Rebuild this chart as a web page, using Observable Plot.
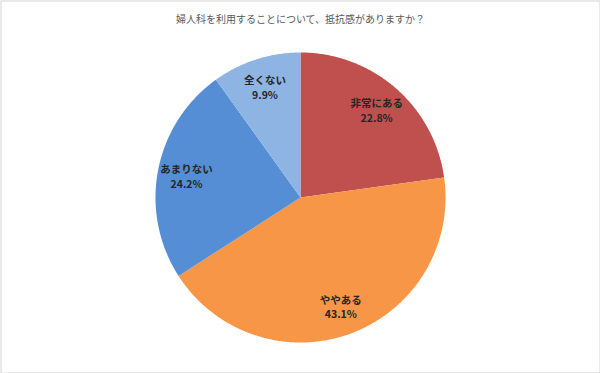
<!DOCTYPE html>
<html>
<head>
<meta charset="utf-8">
<script src="https://cdn.jsdelivr.net/npm/d3@7"></script>
<script src="https://cdn.jsdelivr.net/npm/@observablehq/plot@0.6"></script>
<style>
  body { margin: 0; background: #fff; }
  svg { display: block; }
</style>
</head>
<body>
<div id="chart"></div>
<script>
const title = "婦人科を利用することについて、抵抗感がありますか？";
const categories = ["非常にある", "ややある", "あまりない", "全くない"];
const values = [22.8, 43.1, 24.2, 9.9];
const colors = ["#C0504D", "#F79646", "#558ED5", "#8EB4E3"];

const data = categories.map((name, i) => ({name, value: values[i]}));
const arcs = d3.pie().value(d => d.value).sort(null)(data);

// polygon points for each slice (unit circle, angle clockwise from top)
const polyPts = [];
for (const a of arcs) {
  const n = Math.max(2, Math.ceil((a.endAngle - a.startAngle) / 0.01));
  polyPts.push({name: a.data.name, x: 0, y: 0});
  for (let k = 0; k <= n; k++) {
    const t = a.startAngle + (a.endAngle - a.startAngle) * k / n;
    polyPts.push({name: a.data.name, x: Math.sin(t), y: Math.cos(t)});
  }
  polyPts.push({name: a.data.name, x: 0, y: 0});
}

const labels = arcs.map(a => {
  const m = (a.startAngle + a.endAngle) / 2;
  const r = 0.8;
  return {name: a.data.name, x: r * Math.sin(m), y: r * Math.cos(m),
          text: a.data.name + "\n" + a.data.value.toFixed(1) + "%"};
});

const chart = Plot.plot({
  width: 600,
  height: 373,
  marginTop: 0, marginRight: 0, marginBottom: 0, marginLeft: 0,
  x: {domain: [-1, 1], range: [155, 445], axis: null},
  y: {domain: [1, -1], range: [52, 342], axis: null},
  color: {domain: categories, range: colors},
  style: {fontFamily: "'Noto Sans CJK JP', sans-serif", background: "#fff"},
  marks: [
    Plot.line(polyPts, {x: "x", y: "y", z: "name", fill: "name", stroke: "none", curve: "linear"}),
    Plot.text(labels, {x: "x", y: "y", text: "text", fontSize: 10.5, fontWeight: "bold", fill: "#262626", lineHeight: 1.4}),
    Plot.text([title], {frameAnchor: "top", dy: 15, text: d => d, fontSize: 10, fill: "#595959"}),
    Plot.frame({stroke: "#d4d4d4", inset: 0.5})
  ]
});
document.getElementById("chart").appendChild(chart);
</script>
</body>
</html>
